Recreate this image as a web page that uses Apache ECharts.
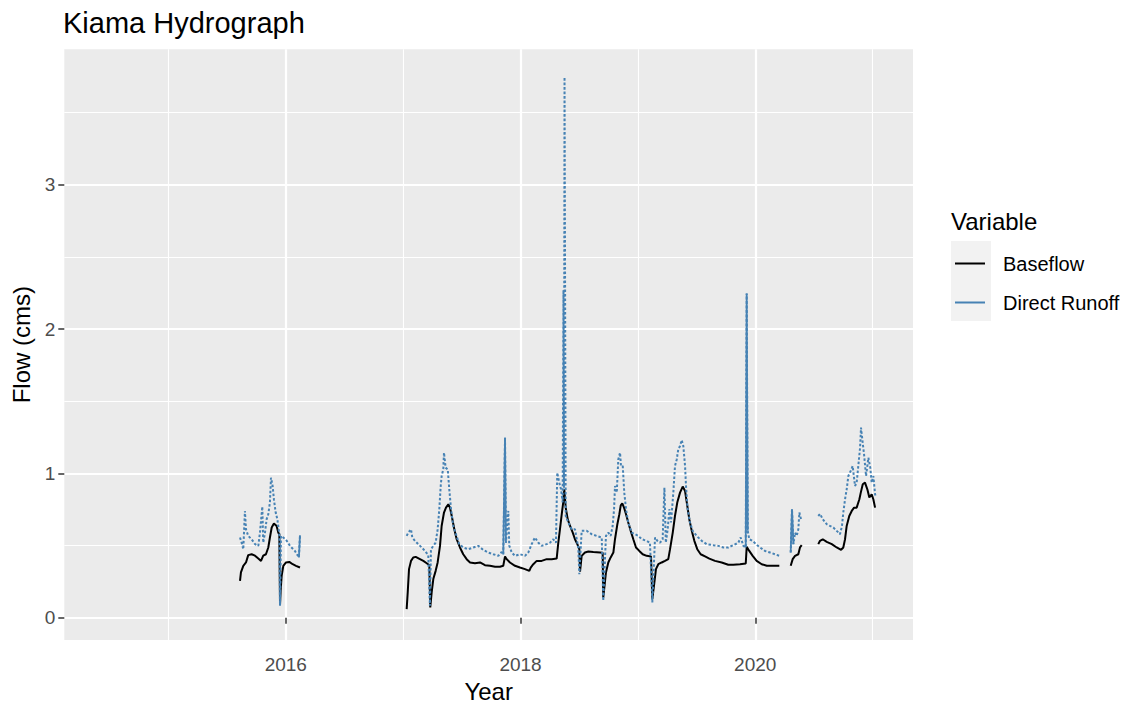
<!DOCTYPE html>
<html>
<head>
<meta charset="utf-8">
<script src="https://cdn.jsdelivr.net/npm/echarts@6/dist/echarts.min.js"></script>
<style>
html,body{margin:0;padding:0;background:#fff;}
#chart{width:1131px;height:708px;}
</style>
</head>
<body>
<div id="chart"></div>
<script>
// ---- data: [decimal year, flow (cms)] ----
const baseflow1 = [[2015.610,0.256],[2015.618,0.314],[2015.638,0.36],[2015.661,0.383],[2015.680,0.434],[2015.709,0.44],[2015.738,0.43],[2015.766,0.41],[2015.789,0.394],[2015.808,0.43],[2015.831,0.44],[2015.851,0.487],[2015.865,0.556],[2015.880,0.625],[2015.899,0.653],[2015.922,0.636],[2015.936,0.59],[2015.945,0.58],[2015.951,0.09],[2015.957,0.2],[2015.965,0.29],[2015.979,0.36],[2016.002,0.383],[2016.030,0.387],[2016.059,0.371],[2016.087,0.36],[2016.121,0.348]];
const baseflow2 = [[2017.030,0.06],[2017.039,0.176],[2017.050,0.337],[2017.067,0.394],[2017.086,0.418],[2017.107,0.422],[2017.135,0.41],[2017.172,0.394],[2017.201,0.378],[2017.223,0.364],[2017.231,0.072],[2017.243,0.176],[2017.257,0.268],[2017.277,0.325],[2017.294,0.383],[2017.314,0.498],[2017.328,0.636],[2017.348,0.729],[2017.365,0.763],[2017.385,0.786],[2017.399,0.763],[2017.414,0.705],[2017.436,0.613],[2017.456,0.544],[2017.484,0.487],[2017.512,0.44],[2017.541,0.406],[2017.570,0.383],[2017.612,0.378],[2017.655,0.383],[2017.697,0.364],[2017.740,0.36],[2017.783,0.353],[2017.825,0.353],[2017.853,0.36],[2017.868,0.425],[2017.882,0.406],[2017.910,0.383],[2017.953,0.36],[2017.995,0.348],[2018.038,0.337],[2018.075,0.325],[2018.087,0.348],[2018.109,0.371],[2018.138,0.394],[2018.180,0.394],[2018.223,0.406],[2018.266,0.406],[2018.308,0.41],[2018.322,0.52],[2018.336,0.613],[2018.351,0.717],[2018.364,0.80],[2018.373,0.89],[2018.385,0.763],[2018.402,0.683],[2018.422,0.636],[2018.445,0.59],[2018.464,0.544],[2018.484,0.51],[2018.501,0.475],[2018.507,0.32],[2018.521,0.429],[2018.549,0.452],[2018.578,0.459],[2018.620,0.456],[2018.677,0.452],[2018.700,0.45],[2018.705,0.14],[2018.728,0.314],[2018.748,0.383],[2018.768,0.418],[2018.791,0.452],[2018.805,0.544],[2018.825,0.648],[2018.842,0.717],[2018.854,0.779],[2018.867,0.793],[2018.882,0.763],[2018.899,0.717],[2018.918,0.66],[2018.939,0.602],[2018.961,0.544],[2018.984,0.487],[2019.012,0.463],[2019.041,0.44],[2019.075,0.429],[2019.112,0.425],[2019.123,0.129],[2019.137,0.221],[2019.154,0.337],[2019.174,0.371],[2019.203,0.383],[2019.231,0.394],[2019.259,0.406],[2019.274,0.475],[2019.297,0.59],[2019.316,0.705],[2019.336,0.80],[2019.359,0.867],[2019.382,0.909],[2019.402,0.878],[2019.421,0.775],[2019.438,0.683],[2019.459,0.602],[2019.481,0.533],[2019.506,0.475],[2019.535,0.44],[2019.572,0.425],[2019.609,0.41],[2019.657,0.394],[2019.714,0.383],[2019.770,0.367],[2019.813,0.367],[2019.870,0.371],[2019.919,0.376],[2019.927,0.491],[2019.949,0.463],[2019.978,0.429],[2020.012,0.394],[2020.055,0.371],[2020.098,0.36],[2020.154,0.36],[2020.205,0.36]];
const baseflow3 = [[2020.302,0.36],[2020.319,0.406],[2020.339,0.429],[2020.367,0.44],[2020.381,0.487],[2020.396,0.503]];
const baseflow4 = [[2020.537,0.51],[2020.552,0.533],[2020.575,0.544],[2020.609,0.526],[2020.652,0.51],[2020.694,0.487],[2020.731,0.47],[2020.750,0.487],[2020.765,0.544],[2020.779,0.636],[2020.801,0.705],[2020.822,0.74],[2020.842,0.763],[2020.864,0.763],[2020.887,0.821],[2020.899,0.867],[2020.916,0.925],[2020.935,0.936],[2020.955,0.89],[2020.972,0.833],[2020.992,0.855],[2021.006,0.821],[2021.021,0.763]];

const runoff1 = [[2015.610,0.556],[2015.624,0.52],[2015.638,0.475],[2015.652,0.74],[2015.661,0.613],[2015.680,0.567],[2015.709,0.544],[2015.738,0.51],[2015.766,0.498],[2015.780,0.59],[2015.800,0.77],[2015.808,0.52],[2015.823,0.59],[2015.837,0.683],[2015.851,0.717],[2015.865,0.80],[2015.874,0.97],[2015.888,0.913],[2015.899,0.82],[2015.914,0.729],[2015.928,0.683],[2015.945,0.579],[2015.951,0.083],[2015.959,0.567],[2015.979,0.556],[2016.008,0.533],[2016.036,0.498],[2016.078,0.463],[2016.112,0.418],[2016.121,0.572]];
const runoff2 = [[2017.030,0.567],[2017.044,0.59],[2017.067,0.613],[2017.078,0.556],[2017.101,0.533],[2017.129,0.51],[2017.158,0.487],[2017.186,0.463],[2017.214,0.434],[2017.228,0.083],[2017.237,0.475],[2017.257,0.498],[2017.277,0.52],[2017.294,0.613],[2017.308,0.752],[2017.320,0.913],[2017.328,0.982],[2017.342,1.028],[2017.348,1.144],[2017.362,1.04],[2017.380,1.028],[2017.393,0.89],[2017.408,0.752],[2017.427,0.636],[2017.450,0.579],[2017.478,0.51],[2017.512,0.487],[2017.555,0.475],[2017.598,0.487],[2017.640,0.498],[2017.683,0.47],[2017.725,0.452],[2017.768,0.44],[2017.811,0.429],[2017.840,0.456],[2017.853,0.44],[2017.868,1.248],[2017.876,0.52],[2017.896,0.74],[2017.904,0.50],[2017.925,0.452],[2017.953,0.429],[2017.995,0.44],[2018.038,0.429],[2018.066,0.452],[2018.095,0.51],[2018.123,0.556],[2018.152,0.52],[2018.180,0.498],[2018.223,0.51],[2018.251,0.52],[2018.279,0.544],[2018.302,0.52],[2018.313,1.005],[2018.330,0.936],[2018.345,0.89],[2018.359,0.80],[2018.366,2.27],[2018.370,0.9],[2018.375,3.745],[2018.385,0.705],[2018.407,0.66],[2018.436,0.613],[2018.464,0.613],[2018.492,0.487],[2018.501,0.302],[2018.521,0.602],[2018.564,0.602],[2018.606,0.579],[2018.649,0.567],[2018.692,0.556],[2018.705,0.118],[2018.728,0.567],[2018.748,0.59],[2018.768,0.567],[2018.785,0.636],[2018.797,0.752],[2018.805,0.913],[2018.820,0.867],[2018.833,1.097],[2018.848,1.144],[2018.856,1.051],[2018.871,1.051],[2018.884,0.867],[2018.899,0.752],[2018.918,0.66],[2018.947,0.59],[2018.976,0.579],[2019.004,0.567],[2019.033,0.544],[2019.075,0.533],[2019.103,0.52],[2019.123,0.106],[2019.146,0.556],[2019.166,0.533],[2019.189,0.52],[2019.211,0.544],[2019.226,0.902],[2019.238,0.52],[2019.254,0.613],[2019.268,0.752],[2019.282,0.66],[2019.302,0.867],[2019.316,1.051],[2019.331,1.097],[2019.344,1.167],[2019.359,1.19],[2019.373,1.231],[2019.387,1.19],[2019.402,1.051],[2019.410,0.913],[2019.424,0.752],[2019.444,0.66],[2019.467,0.602],[2019.501,0.567],[2019.544,0.533],[2019.586,0.51],[2019.643,0.503],[2019.685,0.498],[2019.728,0.487],[2019.770,0.487],[2019.813,0.503],[2019.856,0.52],[2019.876,0.556],[2019.899,0.498],[2019.919,0.487],[2019.927,2.246],[2019.936,0.602],[2019.949,0.544],[2019.978,0.533],[2020.006,0.51],[2020.041,0.487],[2020.083,0.463],[2020.126,0.452],[2020.168,0.44],[2020.205,0.429]];
const runoff3 = [[2020.302,0.452],[2020.313,0.752],[2020.325,0.51],[2020.339,0.59],[2020.353,0.567],[2020.367,0.613],[2020.376,0.729],[2020.390,0.683]];
const runoff4 = [[2020.537,0.705],[2020.552,0.72],[2020.575,0.683],[2020.609,0.648],[2020.637,0.636],[2020.665,0.625],[2020.694,0.602],[2020.722,0.579],[2020.739,0.636],[2020.750,0.729],[2020.765,0.821],[2020.779,0.89],[2020.793,0.982],[2020.813,1.017],[2020.830,1.051],[2020.850,0.913],[2020.864,0.936],[2020.878,1.051],[2020.893,1.178],[2020.901,1.317],[2020.912,1.236],[2020.927,1.132],[2020.944,0.982],[2020.964,1.109],[2020.980,1.04],[2020.992,0.936],[2021.006,0.982],[2021.021,0.855],[2021.029,0.833]];
// sharp single-day runoff spikes (drawn solid in the reference)
const runoffSpikes = [[[2016.112,0.418],[2016.121,0.572]],[[2017.853,0.44],[2017.868,1.248],[2017.876,0.52]],[[2019.919,0.487],[2019.927,2.246],[2019.936,0.602]],[[2020.302,0.452],[2020.313,0.752],[2020.325,0.51]]];

// tick values
const xMajorTicks = [2016, 2018, 2020];
const xMinorTicks = [2015, 2017, 2019, 2021];
const yMajorTicks = [0, 1, 2, 3];
const yMinorTicks = [0.5, 1.5, 2.5, 3.5];

function joinSegments(segs) {
  const out = [];
  segs.forEach((s, i) => { if (i > 0) out.push(null); s.forEach(p => out.push(p)); });
  return out;
}

const FONT = 'Liberation Sans, Arial, sans-serif';
const chart = echarts.init(document.getElementById('chart'), null, {renderer: 'svg'});
const option = {
  animation: false,
  backgroundColor: '#ffffff',
  title: [
    {text: 'Kiama Hydrograph', left: 63, top: 8, padding: 0,
     textStyle: {fontFamily: FONT, fontSize: 29, fontWeight: 'normal', color: '#000'}},
    {text: 'Variable', left: 951, top: 209, padding: 0,
     textStyle: {fontFamily: FONT, fontSize: 24, fontWeight: 'normal', color: '#000'}}
  ],
  graphic: [
    {type: 'rect', left: 951, top: 241, shape: {width: 40, height: 80}, style: {fill: '#F2F2F2'}, z: -1}
  ],
  legend: {
    data: ['Baseflow', 'Direct Runoff'],
    orient: 'vertical', left: 955, top: 253.5, padding: 0,
    itemWidth: 43, itemHeight: 2, itemGap: 19,
    icon: 'path://M0,0H30V2H0Z M43,1H43.01V1.01H43Z',
    itemStyle: {borderWidth: 0},
    lineStyle: {type: 'solid'},
    textStyle: {fontFamily: FONT, fontSize: 20, color: '#000'}
  },
  grid: {left: 64.3, right: 218, top: 49.3, bottom: 67, show: true, backgroundColor: '#EBEBEB', borderWidth: 0},
  xAxis: [
    {type: 'value', min: 2014.113, max: 2021.344,
     name: 'Year', nameLocation: 'middle', nameGap: 39,
     nameTextStyle: {fontFamily: FONT, fontSize: 24, color: '#000'},
     axisLine: {show: false},
     axisTick: {show: true, length: 6, customValues: xMajorTicks, lineStyle: {color: '#333333', width: 1.5}},
     axisLabel: {customValues: xMajorTicks, margin: 15, fontFamily: FONT, fontSize: 19, color: '#4D4D4D',
                 formatter: v => String(v)},
     splitLine: {show: true, lineStyle: {color: '#ffffff', width: 2.2}}},
    {type: 'value', min: 2014.113, max: 2021.344, position: 'bottom',
     axisLine: {show: false},
     axisTick: {show: false, customValues: xMinorTicks},
     axisLabel: {show: false, customValues: xMinorTicks},
     splitLine: {show: true, lineStyle: {color: '#ffffff', width: 1.1}}}
  ],
  yAxis: [
    {type: 'value', min: -0.154, max: 3.938,
     name: 'Flow (cms)', nameLocation: 'middle', nameGap: 30,
     nameTextStyle: {fontFamily: FONT, fontSize: 24, color: '#000'},
     axisLine: {show: false},
     axisTick: {show: true, length: 6, customValues: yMajorTicks, lineStyle: {color: '#333333', width: 1.5}},
     axisLabel: {customValues: yMajorTicks, margin: 9, fontFamily: FONT, fontSize: 19, color: '#4D4D4D',
                 formatter: v => String(v)},
     splitLine: {show: true, lineStyle: {color: '#ffffff', width: 2.2}}},
    {type: 'value', min: -0.154, max: 3.938, position: 'left',
     axisLine: {show: false},
     axisTick: {show: false, customValues: yMinorTicks},
     axisLabel: {show: false, customValues: yMinorTicks},
     splitLine: {show: true, lineStyle: {color: '#ffffff', width: 1.1}}}
  ],
  series: [
    {name: 'Baseflow', type: 'line', xAxisIndex: 0, yAxisIndex: 0,
     data: joinSegments([baseflow1, baseflow2, baseflow3, baseflow4]),
     showSymbol: false, symbol: 'none', connectNulls: false, color: '#000000',
     lineStyle: {color: '#000000', width: 2}, z: 3},
    {name: 'Direct Runoff', type: 'line', xAxisIndex: 0, yAxisIndex: 0,
     data: joinSegments([runoff1, runoff2, runoff3, runoff4]),
     showSymbol: false, symbol: 'none', connectNulls: false, color: '#4682B4',
     lineStyle: {color: '#4682B4', width: 2, type: [2.5, 2]}, z: 4},
    {name: 'Direct Runoff', type: 'line', xAxisIndex: 0, yAxisIndex: 0,
     data: joinSegments(runoffSpikes),
     showSymbol: false, symbol: 'none', connectNulls: false, color: '#4682B4',
     lineStyle: {color: '#4682B4', width: 1.8}, z: 4}
  ]
};
chart.setOption(option);
</script>
</body>
</html>
